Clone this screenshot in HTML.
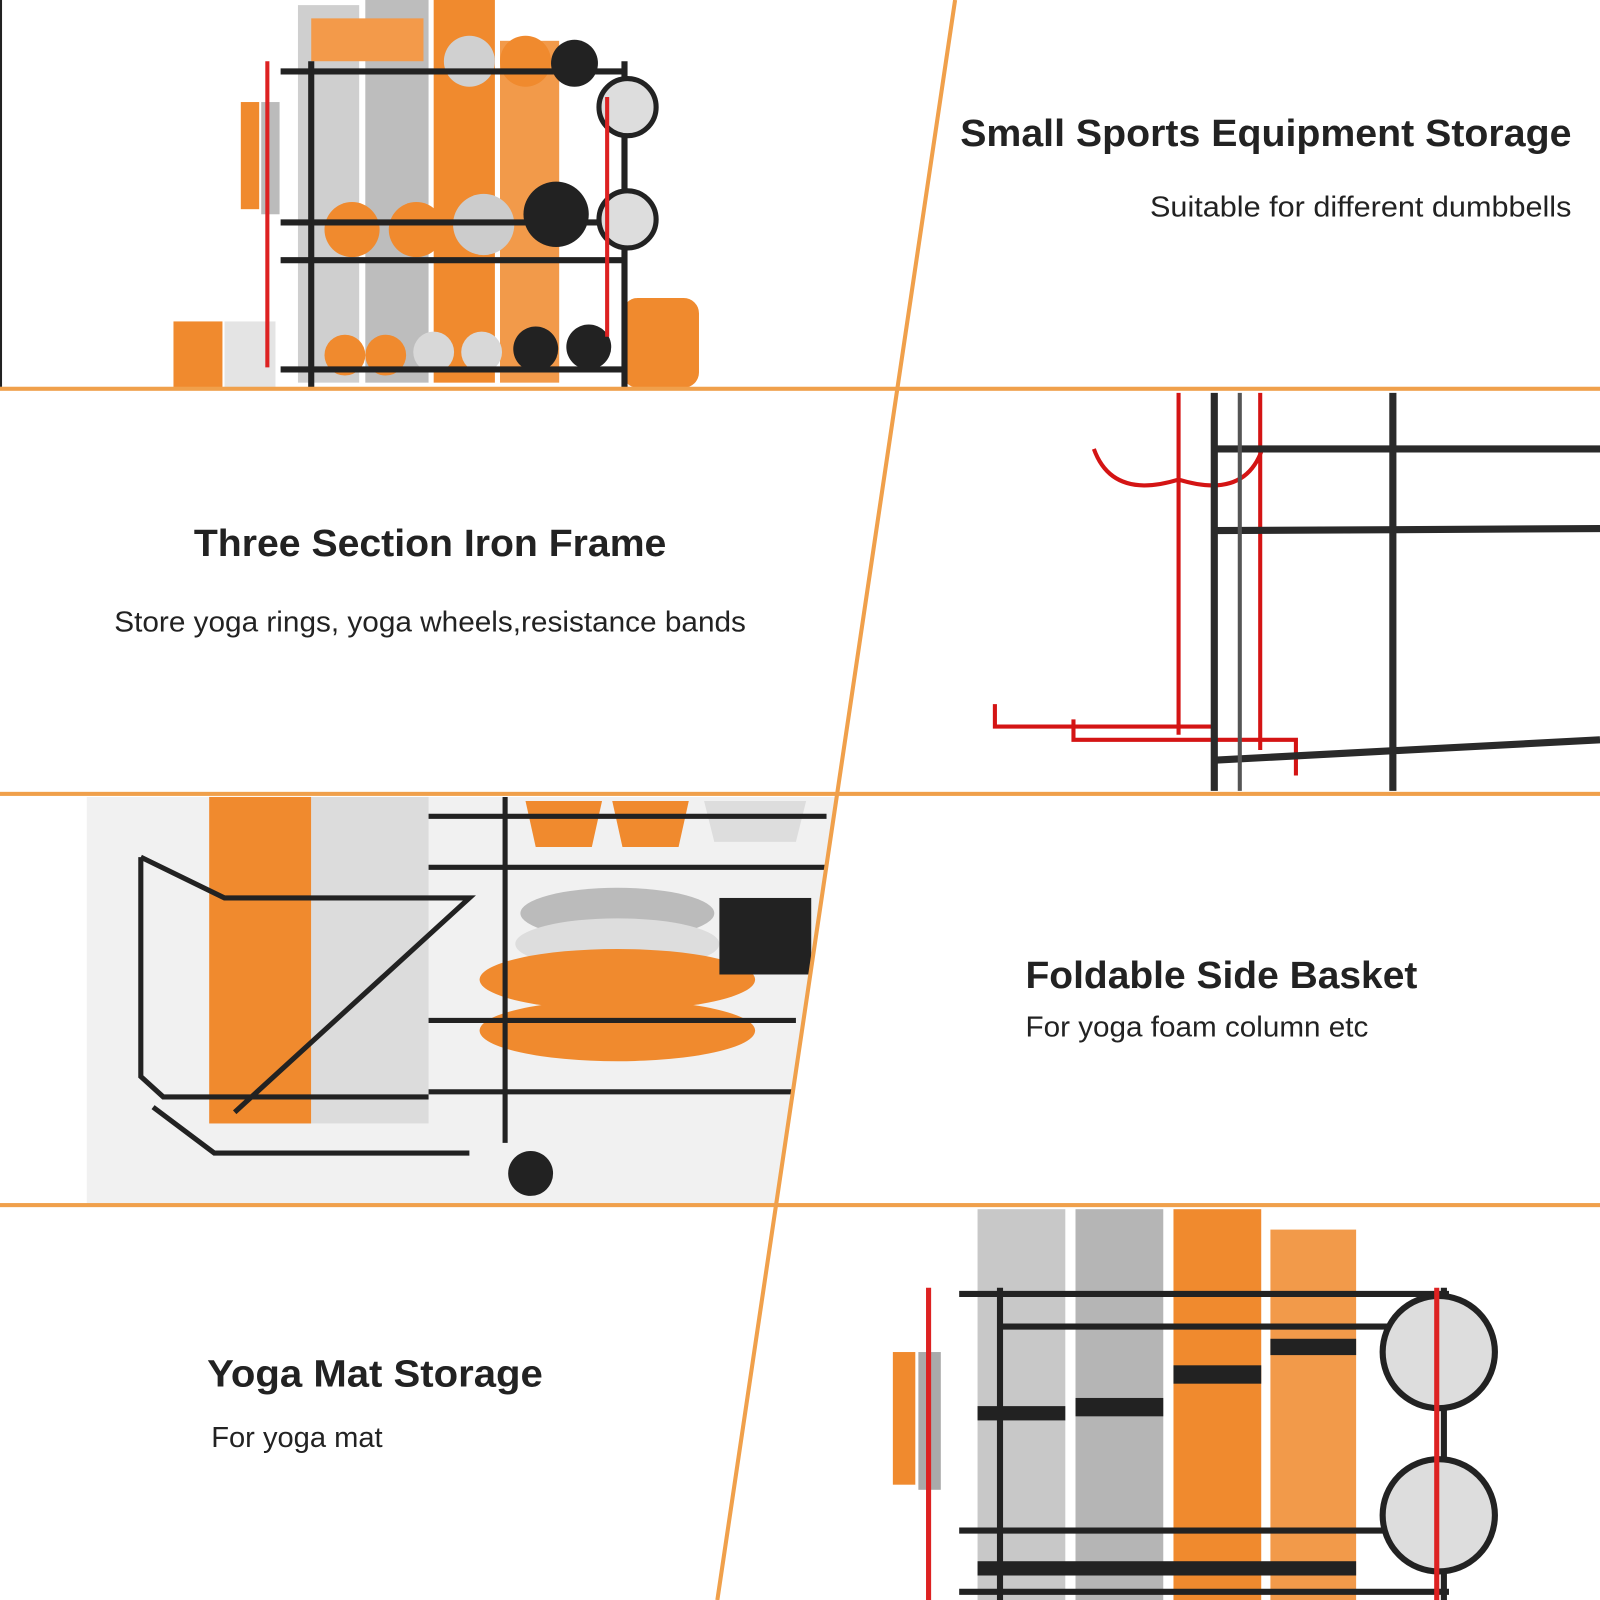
<!DOCTYPE html>
<html><head><meta charset="utf-8"><style>html,body{margin:0;padding:0;background:#fff}svg{display:block}</style></head>
<body>
<svg width="1600" height="1600" viewBox="0 0 1568 1568" xmlns="http://www.w3.org/2000/svg">
<rect width="1568" height="1568" fill="#fff"/>
<!-- Panel 3 bg -->
<polygon points="85,781 818,781 762,1180 85,1180" fill="#f1f1f1"/>
<!-- Panel 1 image -->
<g>
<rect x="292" y="5" width="60" height="370" fill="#cfcfcf"/>
<rect x="358" y="0" width="62" height="375" fill="#bdbdbd"/>
<rect x="425" y="0" width="60" height="375" fill="#f08a2e"/>
<rect x="490" y="40" width="58" height="335" fill="#f29a4a"/>
<rect x="305" y="18" width="110" height="42" fill="#f39a4a"/>
<circle cx="460" cy="60" r="25" fill="#d0d0d0"/><circle cx="515" cy="60" r="25" fill="#f08a2e"/><circle cx="563" cy="62" r="23" fill="#222"/>
<circle cx="345" cy="225" r="27" fill="#f08a2e"/><circle cx="408" cy="225" r="27" fill="#f08a2e"/><circle cx="474" cy="220" r="30" fill="#ccc"/><circle cx="545" cy="210" r="32" fill="#222"/>
<g fill="#f08a2e"><circle cx="338" cy="348" r="20"/><circle cx="378" cy="348" r="20"/></g>
<g fill="#d8d8d8"><circle cx="425" cy="345" r="20"/><circle cx="472" cy="345" r="20"/></g>
<g fill="#222"><circle cx="525" cy="342" r="22"/><circle cx="577" cy="340" r="22"/></g>
<rect x="610" y="292" width="75" height="88" rx="15" fill="#f08a2e"/>
<rect x="170" y="315" width="48" height="65" fill="#f08a2e"/><rect x="220" y="315" width="50" height="65" fill="#e4e4e4"/>
<g stroke="#222" stroke-width="6" fill="none">
<line x1="305" y1="60" x2="305" y2="380"/><line x1="612" y1="60" x2="612" y2="380"/>
<line x1="275" y1="70" x2="612" y2="70"/><line x1="275" y1="218" x2="612" y2="218"/><line x1="275" y1="255" x2="612" y2="255"/><line x1="275" y1="362" x2="612" y2="362"/>
</g>
<circle cx="615" cy="105" r="28" fill="#ddd" stroke="#222" stroke-width="5"/><circle cx="615" cy="215" r="28" fill="#ddd" stroke="#222" stroke-width="5"/>
<rect x="236" y="100" width="18" height="105" fill="#f08a2e"/><rect x="256" y="100" width="18" height="110" fill="#bbb"/>
<path d="M262 60 V360 M595 95 V330" stroke="#d22" stroke-width="4" fill="none"/>
</g>
<!-- Panel 2 image -->
<g fill="none">
<path d="M1155 385 V720 M1235 385 V735 M1072 440 Q1090 490 1155 470 M1237 440 Q1220 490 1155 470 M975 690 V712 H1190 V740 M1052 705 V725 H1270 V760" stroke="#d41414" stroke-width="4"/>
<g stroke="#2a2a2a" stroke-width="7">
<line x1="1190" y1="385" x2="1190" y2="775"/><line x1="1365" y1="385" x2="1365" y2="775"/>
<line x1="1190" y1="440" x2="1568" y2="440"/><line x1="1190" y1="520" x2="1568" y2="518"/><line x1="1190" y1="745" x2="1568" y2="725"/>
</g>
<line x1="1215" y1="385" x2="1215" y2="775" stroke="#555" stroke-width="4"/>
</g>
<!-- Panel 3 image -->
<g>
<rect x="205" y="781" width="100" height="320" fill="#f08a2e"/>
<rect x="305" y="781" width="115" height="320" fill="#dcdcdc"/>
<g fill="#f08a2e"><polygon points="515,785 590,785 580,830 525,830"/><polygon points="600,785 675,785 665,830 610,830"/></g>
<polygon points="690,785 790,785 780,825 700,825" fill="#ddd"/>
<ellipse cx="605" cy="895" rx="95" ry="25" fill="#bbb"/><ellipse cx="605" cy="925" rx="100" ry="25" fill="#ddd"/>
<ellipse cx="605" cy="960" rx="135" ry="30" fill="#f08a2e"/><ellipse cx="605" cy="1010" rx="135" ry="30" fill="#f08a2e"/>
<rect x="705" y="880" width="90" height="75" fill="#222"/>
<g stroke="#222" stroke-width="5" fill="none">
<path d="M420 800 L810 800 M420 850 L810 850 M420 1000 L780 1000 M420 1070 L780 1070 M495 781 V1120"/>
<path d="M138 840 V1055 L160 1075 H420 M138 840 L220 880 L460 880 L230 1090 M150 1085 L210 1130 H460"/>
</g>
<circle cx="520" cy="1150" r="22" fill="#222"/>
</g>
<!-- Panel 4 image -->
<g>
<rect x="958" y="1185" width="86" height="383" fill="#c8c8c8"/>
<rect x="1054" y="1185" width="86" height="383" fill="#b5b5b5"/>
<rect x="1150" y="1185" width="86" height="383" fill="#f08a2e"/>
<rect x="1245" y="1205" width="84" height="363" fill="#f29a4a"/>
<g fill="#222"><rect x="958" y="1378" width="86" height="14"/><rect x="1054" y="1370" width="86" height="18"/><rect x="1150" y="1338" width="86" height="18"/><rect x="1245" y="1312" width="84" height="16"/><rect x="958" y="1530" width="371" height="14"/></g>
<g stroke="#222" stroke-width="6" fill="none">
<line x1="980" y1="1262" x2="980" y2="1568"/><line x1="1415" y1="1262" x2="1415" y2="1568"/>
<line x1="940" y1="1268" x2="1420" y2="1268"/><line x1="980" y1="1300" x2="1415" y2="1300"/><line x1="940" y1="1500" x2="1420" y2="1500"/><line x1="940" y1="1560" x2="1420" y2="1560"/>
</g>
<circle cx="1410" cy="1325" r="55" fill="#ddd" stroke="#222" stroke-width="6"/><circle cx="1410" cy="1485" r="55" fill="#ddd" stroke="#222" stroke-width="6"/>
<rect x="875" y="1325" width="22" height="130" fill="#f08a2e"/><rect x="900" y="1325" width="22" height="135" fill="#aaa"/>
<path d="M910 1262 V1568 M1408 1262 V1568" stroke="#d22" stroke-width="5" fill="none"/>
</g>
<!-- white panels behind text (mask slant overflow) -->
<polygon points="935,0 1568,0 1568,381 880,381" fill="#fff"/>
<polygon points="0,384 878,384 822,778 0,778" fill="#fff"/>
<polygon points="818,781 1568,781 1568,1181 762,1181" fill="#fff"/>
<polygon points="0,1184 760,1184 706,1568 0,1568" fill="#fff"/>
<!-- redraw panel 2 image over white polygon of row 2 right-side is fine (row2 left white only) -->
<!-- dividers -->
<g fill="#f0a04b">
<rect x="0" y="379" width="1568" height="4"/>
<rect x="0" y="776" width="1568" height="4"/>
<rect x="0" y="1179" width="1568" height="4"/>
</g>
<line x1="936" y1="0" x2="703" y2="1568" stroke="#f0a04b" stroke-width="4"/>
<line x1="1" y1="0" x2="1" y2="379" stroke="#222" stroke-width="2"/>
<!-- text -->
<g font-family="'Liberation Sans', 'DejaVu Sans', sans-serif" fill="#222">
<text x="941" y="143" font-size="37" font-weight="bold" textLength="599" lengthAdjust="spacingAndGlyphs">Small Sports Equipment Storage</text>
<text x="1127" y="212" font-size="28" textLength="413" lengthAdjust="spacingAndGlyphs">Suitable for different dumbbells</text>
<text x="190" y="545" font-size="37" font-weight="bold" textLength="463" lengthAdjust="spacingAndGlyphs">Three Section Iron Frame</text>
<text x="112" y="619" font-size="28" textLength="619" lengthAdjust="spacingAndGlyphs">Store yoga rings, yoga wheels,resistance bands</text>
<text x="1005" y="968" font-size="37" font-weight="bold" textLength="384" lengthAdjust="spacingAndGlyphs">Foldable Side Basket</text>
<text x="1005" y="1016" font-size="28" textLength="336" lengthAdjust="spacingAndGlyphs">For yoga foam column etc</text>
<text x="203" y="1359" font-size="37" font-weight="bold" textLength="329" lengthAdjust="spacingAndGlyphs">Yoga Mat Storage</text>
<text x="207" y="1418" font-size="28" textLength="168" lengthAdjust="spacingAndGlyphs">For yoga mat</text>
</g>
</svg>
</body></html>
